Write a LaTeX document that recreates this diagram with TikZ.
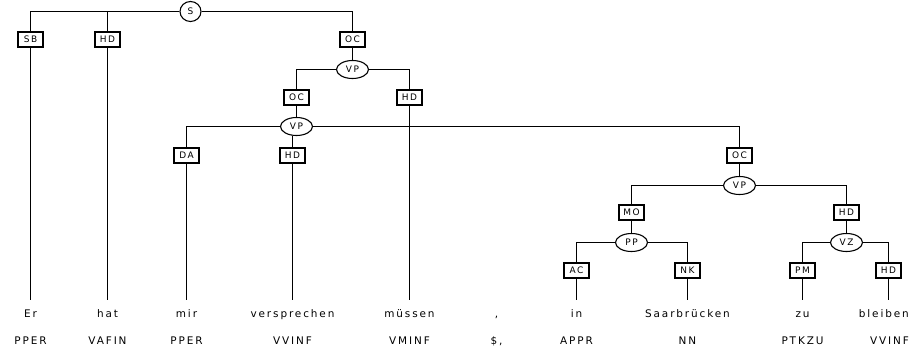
\documentclass[tikz,border=0pt]{standalone}
\usepackage{fontspec}
\setmainfont{DejaVu Sans}
\newfontfamily\treefont[LetterSpace=18]{DejaVu Sans}
\usetikzlibrary{shapes.geometric}
\tikzset{
  fnbox/.style={draw, line width=1.1pt, rectangle, inner sep=0pt, minimum width=25bp, minimum height=15bp, font=\treefont\fontsize{9}{9}\selectfont},
  catnode/.style={draw, line width=1.1pt, ellipse, inner sep=0pt, minimum width=32bp, minimum height=18bp, font=\treefont\fontsize{9}{9}\selectfont},
  wordnode/.style={inner sep=0pt, anchor=north, text height=17bp, font=\treefont\fontsize{10.5}{10.5}\selectfont},
  tagnode/.style={inner sep=0pt, anchor=base, font=\treefont\fontsize{10.5}{10.5}\selectfont},
  edge/.style={line width=1.1pt}
}
\begin{document}
\begin{tikzpicture}[x=1bp,y=-1bp]
  \useasboundingbox (0,0) rectangle (911,353);

  % Words and tags
  \node[wordnode] (w1) at (30.5,300) {Er};
  \node[wordnode] (w2) at (107.5,300) {hat};
  \node[wordnode] (w3) at (186.5,300) {mir};
  \node[wordnode] (w4) at (292.5,300) {versprechen};
  \node[wordnode] (w5) at (409.5,300) {müssen};
  \node[wordnode] (w6) at (496.5,300) {,};
  \node[wordnode] (w7) at (576.5,300) {in};
  \node[wordnode] (w8) at (687.5,300) {Saarbrücken};
  \node[wordnode] (w9) at (802.5,300) {zu};
  \node[wordnode, anchor=north east] (w10) at (909,300) {bleiben};

  \node[tagnode] (t1) at (30.5,344) {PPER};
  \node[tagnode] (t2) at (107.5,344) {VAFIN};
  \node[tagnode] (t3) at (186.5,344) {PPER};
  \node[tagnode] (t4) at (292.5,344) {VVINF};
  \node[tagnode] (t5) at (409.5,344) {VMINF};
  \node[tagnode] (t6) at (496.5,344) {\$,};
  \node[tagnode] (t7) at (576.5,344) {APPR};
  \node[tagnode] (t8) at (687.5,344) {NN};
  \node[tagnode] (t9) at (802.5,344) {PTKZU};
  \node[tagnode, anchor=base east] (t10) at (909,344) {VVINF};

  % Category nodes
  \node[catnode, minimum width=21bp, minimum height=20bp] (s) at (190.5,11.5) {S};
  \node[catnode] (vpa) at (352.5,69.5) {VP};
  \node[catnode] (vpb) at (296.5,126.5) {VP};
  \node[catnode] (vpc) at (739.5,185.5) {VP};
  \node[catnode] (pp) at (631.5,242.5) {PP};
  \node[catnode] (vz) at (846.5,242.5) {VZ};

  % Function labels
  \node[fnbox] (sb) at (30.5,39.5) {SB};
  \node[fnbox] (hda) at (107.5,39.5) {HD};
  \node[fnbox] (oca) at (352.5,39.5) {OC};
  \node[fnbox] (ocb) at (296.5,97.5) {OC};
  \node[fnbox] (hdb) at (409.5,97.5) {HD};
  \node[fnbox] (da) at (186.5,155.5) {DA};
  \node[fnbox] (hdc) at (292.5,155.5) {HD};
  \node[fnbox] (occ) at (739.5,155.5) {OC};
  \node[fnbox] (mo) at (631.5,212.5) {MO};
  \node[fnbox] (hdd) at (846.5,212.5) {HD};
  \node[fnbox] (ac) at (576.5,270.5) {AC};
  \node[fnbox] (nk) at (687.5,270.5) {NK};
  \node[fnbox] (pm) at (802.5,270.5) {PM};
  \node[fnbox] (hde) at (888.5,270.5) {HD};

  % Drawing edges S
  \draw[edge] (s) -| (sb);
  \draw[edge] (s) -| (hda);
  \draw[edge] (s) -| (oca);
  \draw[edge] (oca) -- (vpa);

  % Drawing edges VP
  \draw[edge] (vpa) -| (ocb);
  \draw[edge] (vpa) -| (hdb);
  \draw[edge] (ocb) -- (vpb);
  \draw[edge] (vpb) -| (da);
  \draw[edge] (hdc) -- (hdc |- vpb.south);
  \draw[edge] (vpb) -| (occ);
  \draw[edge] (occ) -- (vpc);
  \draw[edge] (vpc) -| (mo);
  \draw[edge] (vpc) -| (hdd);
  \draw[edge] (mo) -- (pp);
  \draw[edge] (hdd) -- (vz);

  % Drawing edges PP and VZ
  \draw[edge] (pp) -| (ac);
  \draw[edge] (pp) -| (nk);
  \draw[edge] (vz) -| (pm);
  \draw[edge] (vz) -| (hde);

  % Drawing lines to words
  \draw[edge] (sb) -- (w1);
  \draw[edge] (hda) -- (w2);
  \draw[edge] (da) -- (w3);
  \draw[edge] (hdc) -- (w4);
  \draw[edge] (hdb) -- (w5);
  \draw[edge] (ac) -- (w7);
  \draw[edge] (nk) -- (w8);
  \draw[edge] (pm) -- (w9);
  \draw[edge] (hde) -- (hde |- w10.north);
\end{tikzpicture}
\end{document}
